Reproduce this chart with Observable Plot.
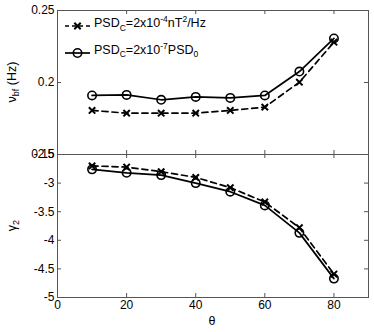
<!DOCTYPE html>
<html><head><meta charset="utf-8">
<script src="https://cdn.jsdelivr.net/npm/d3@7"></script>
<script src="https://cdn.jsdelivr.net/npm/@observablehq/plot@0.6"></script>
<style>
body{margin:0;background:#fff;}
#chart{width:374px;height:332px;}
#chart svg{display:block;overflow:visible;background:transparent;}
</style></head><body><div id="chart"></div>
<script>
const theta = [10, 20, 30, 40, 50, 60, 70, 80];
const nuDashed = [0.1806, 0.1787, 0.1787, 0.1787, 0.1806, 0.1829, 0.2002, 0.2280];
const nuSolid  = [0.1910, 0.1914, 0.1880, 0.1900, 0.1893, 0.1910, 0.2076, 0.2306];
const gDashed  = [-2.70, -2.72, -2.80, -2.90, -3.08, -3.33, -3.78, -4.59];
const gSolid   = [-2.76, -2.82, -2.86, -3.00, -3.15, -3.39, -3.87, -4.67];
const xTicks = [0, 20, 40, 60, 80];
const nuTicks = [0.15, 0.2, 0.25];
const gTicks = [-5, -4.5, -4, -3.5, -3, -2.5];

const W = 374, ML = 57, MR = 6;
const innerW = W - ML - MR;
const font = "Liberation Sans, Arial, Helvetica, sans-serif";
const frameColor = "#555";
const xR = 3, xSW = 2, oR = 4.2, oSW = 1.6, lineW = 1.7;

function rows(ys) { return theta.map((t, i) => ({t, v: ys[i]})); }

function panel({height, marginTop, marginBottom, yDomain, yTicks, dashed, solid, showX}) {
  const innerH = height - marginTop - marginBottom;
  const marks = [
    Plot.frame({stroke: frameColor, strokeWidth: 1}),
    Plot.tickX(xTicks, {x: d => d, insetTop: innerH - 4, stroke: frameColor}),
    Plot.tickX(xTicks, {x: d => d, insetBottom: innerH - 4, stroke: frameColor}),
    Plot.tickY(yTicks, {y: d => d, insetRight: innerW - 4, stroke: frameColor}),
    Plot.tickY(yTicks, {y: d => d, insetLeft: innerW - 4, stroke: frameColor}),
    Plot.axisY(yTicks, {tickSize: 0, tickPadding: 3, label: null, tickFormat: d => String(d)}),
    showX ? Plot.axisX(xTicks, {tickSize: 0, tickPadding: 3, label: null, tickFormat: d => String(d)}) : Plot.axisX([], {label: null}),
    Plot.line(rows(dashed), {x: "t", y: "v", stroke: "black", strokeWidth: lineW, strokeDasharray: "6,4"}),
    Plot.dot(rows(dashed), {x: "t", y: "v", symbol: "times", r: xR, stroke: "black", strokeWidth: xSW}),
    Plot.line(rows(solid), {x: "t", y: "v", stroke: "black", strokeWidth: lineW}),
    Plot.dot(rows(solid), {x: "t", y: "v", r: oR, stroke: "black", fill: "none", strokeWidth: oSW})
  ];
  return Plot.plot({
    width: W, height, marginLeft: ML, marginRight: MR, marginTop, marginBottom,
    style: {background: "transparent", overflow: "visible", fontSize: "12px", fontFamily: font, color: "#000"},
    x: {domain: [0, 90]},
    y: {domain: yDomain},
    marks
  });
}

const topSvg = panel({height: 154, marginTop: 10, marginBottom: 0, yDomain: [0.15, 0.25], yTicks: nuTicks, dashed: nuDashed, solid: nuSolid, showX: false});
const bottomSvg = panel({height: 178, marginTop: 0, marginBottom: 35, yDomain: [-5, -2.5], yTicks: gTicks, dashed: gDashed, solid: gSolid, showX: true});

const chart = document.getElementById("chart");
chart.appendChild(topSvg);
chart.appendChild(bottomSvg);

// Y axis labels (with subscripts)
function yLabel(svg, cy, main, sub, rest) {
  const t = d3.select(svg).append("text")
    .attr("transform", `translate(16,${cy}) rotate(-90)`)
    .attr("text-anchor", "middle")
    .attr("font-family", font).attr("font-size", 12.5).attr("fill", "#000");
  t.append("tspan").text(main);
  t.append("tspan").attr("font-size", 9).attr("dy", 3).text(sub);
  if (rest) t.append("tspan").attr("dy", -3).text(rest);
}
yLabel(topSvg, 82, "ν", "bf", " (Hz)");
yLabel(bottomSvg, 71.5, "γ", "2", null);

// X axis label
d3.select(bottomSvg).append("text")
  .attr("x", 212).attr("y", 171).attr("text-anchor", "middle")
  .attr("font-family", font).attr("font-size", 12.5).attr("fill", "#000").text("θ");

// Legend
const lg = d3.select(topSvg).append("g").attr("font-family", font).attr("fill", "#000").attr("text-anchor", "start");
const legendRows = [
  {y: 26, dash: "6,4", symbol: d3.symbolTimes || d3.symbolX, r: xR, sw: xSW,
   parts: [["PSD", 0], ["C", 1], ["=2x10", 0], ["-4", 2], ["nT", 0], ["2", 2], ["/Hz", 0]]},
  {y: 53, dash: null, symbol: d3.symbolCircle, r: oR, sw: oSW,
   parts: [["PSD", 0], ["C", 1], ["=2x10", 0], ["-7", 2], ["PSD", 0], ["0", 1]]}
];
legendRows.forEach((row, i) => {
  const ly = row.y;
  lg.append("line").attr("x1", 65).attr("x2", 90).attr("y1", ly).attr("y2", ly)
    .attr("stroke", "black").attr("stroke-width", lineW)
    .attr("stroke-dasharray", row.dash ? "4,3" : null);
  lg.append("path").attr("d", d3.symbol(row.symbol, Math.PI * row.r * row.r)())
    .attr("transform", `translate(77.5,${ly})`)
    .attr("fill", "none").attr("stroke", "black").attr("stroke-width", row.sw);
  const t = lg.append("text").attr("x", 94).attr("y", i === 0 ? 27 : 53.5)
    .attr("font-size", 12.5).attr("text-anchor", "start");
  let cur = 0;
  row.parts.forEach(([s, k]) => {
    const target = k === 1 ? 3.5 : k === 2 ? -5 : 0;
    t.append("tspan").attr("dy", target - cur).attr("font-size", k ? 8.5 : 12.5).text(s);
    cur = target;
  });
});
</script></body></html>
